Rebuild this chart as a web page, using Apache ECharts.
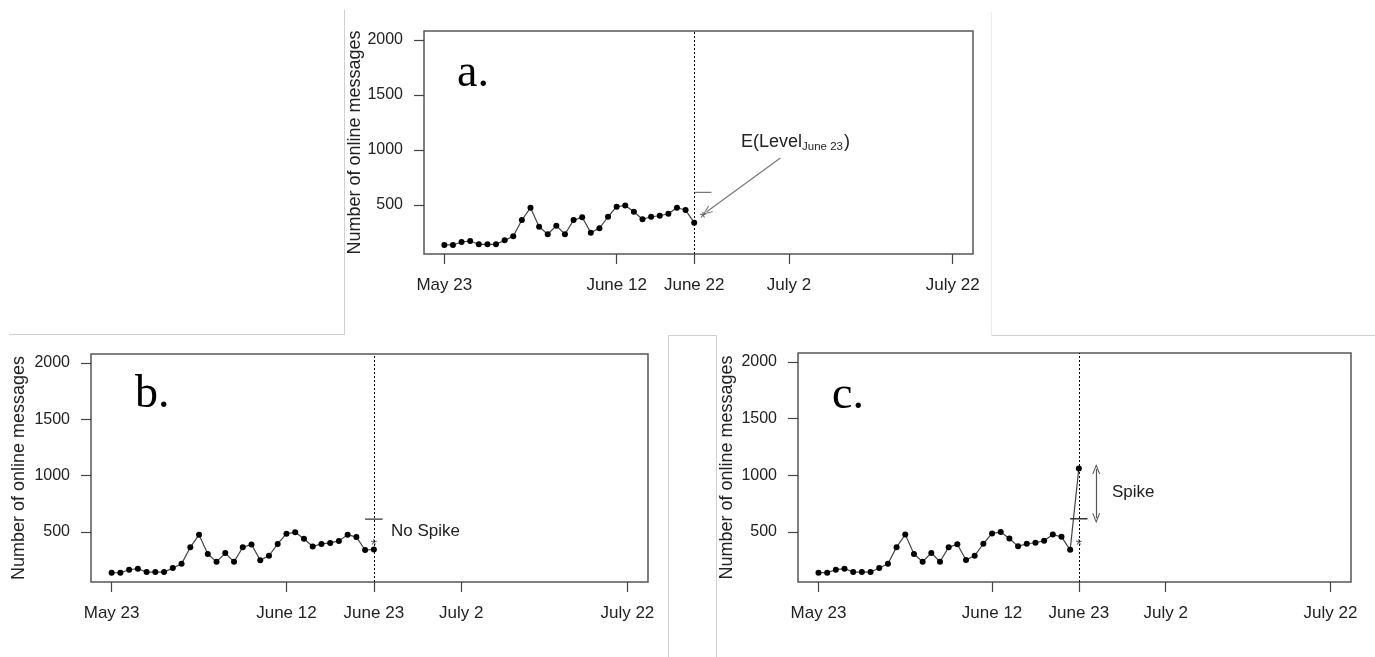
<!DOCTYPE html>
<html>
<head>
<meta charset="utf-8">
<script src="https://cdn.jsdelivr.net/npm/echarts@6/dist/echarts.min.js"></script>
<style>
  html, body { margin: 0; padding: 0; background: #fff; }
  #chart { width: 1375px; height: 657px; }
</style>
</head>
<body>
<div id="chart"></div>
<script>
// daily message counts, May 23 .. June 22 (day index 0..29)
const messages = [138, 138, 165, 174, 144, 144, 144, 180, 217, 364, 476, 304, 235, 313, 235,
                  364, 389, 250, 289, 394, 485, 497, 440, 371, 394, 403, 421, 476, 455, 340];
const june23NoSpike = 345;   // panel b
const june23Spike = 1060;    // panel c
const expectedLevel = 415;   // the "*" at June 23
const upperBound = 615;      // short horizontal threshold bar

const tickDaysA = [0, 20, 29, 40, 59];
const tickLabelsA = ['May 23', 'June 12', 'June 22', 'July 2', 'July 22'];
const tickDaysBC = [0, 20, 30, 40, 59];
const tickLabelsBC = ['May 23', 'June 12', 'June 23', 'July 2', 'July 22'];
const yTicks = [500, 1000, 1500, 2000];

const FONT = 'Liberation Sans';
const chevron = 'path://M0,10 L5,0 L10,10 L8.6,10 L5,2.8 L1.4,10 Z';

const chart = echarts.init(document.getElementById('chart'));

const grids = [
  { left: 424, top: 31, width: 549, height: 223 },
  { left: 91, top: 354, width: 557, height: 228 },
  { left: 798, top: 353, width: 553, height: 229 }
].map(g => Object.assign(g, { show: true, borderColor: '#555', borderWidth: 1.5, containLabel: false }));

function xAxis(gridIndex, days, labels) {
  return {
    type: 'value', gridIndex, min: -2.36, max: 61.36,
    axisLine: { show: false, onZero: false },
    splitLine: { show: false },
    axisTick: { show: true, length: 10, customValues: days, lineStyle: { color: '#444', width: 1.2 } },
    axisLabel: {
      customValues: days, margin: 23, fontSize: 17, fontFamily: FONT, color: '#222',
      formatter: v => labels[days.indexOf(v)]
    }
  };
}

function yAxis(gridIndex, gap) {
  return {
    type: 'value', gridIndex, min: 56, max: 2080,
    name: 'Number of online messages', nameLocation: 'middle', nameGap: gap,
    nameMoveOverlap: false,
    nameTextStyle: { fontSize: 18, fontFamily: FONT, color: '#222' },
    axisLine: { show: false, onZero: false },
    splitLine: { show: false },
    axisTick: { show: true, length: 10, customValues: yTicks, lineStyle: { color: '#444', width: 1.2 } },
    axisLabel: { customValues: yTicks, margin: 21, fontSize: 16, fontFamily: FONT, color: '#222', formatter: v => String(v) }
  };
}

function panelSeries(idx, values, cutDay) {
  return [
    {
      type: 'line', xAxisIndex: idx, yAxisIndex: idx,
      data: values.map((v, i) => [i, v]),
      symbol: 'circle', symbolSize: 6,
      itemStyle: { color: '#000' },
      lineStyle: { color: '#444', width: 1.2 },
      markLine: {
        silent: true, symbol: 'none', label: { show: false },
        lineStyle: { type: [2, 2], color: '#000', width: 1 },
        data: [{ xAxis: cutDay }]
      }
    },
    {
      type: 'line', xAxisIndex: idx, yAxisIndex: idx,
      data: [[29, upperBound], [31, upperBound]],
      symbol: 'none', lineStyle: { color: idx === 0 ? '#777' : '#333', width: 1.3 }
    },
    {
      type: 'scatter', xAxisIndex: idx, yAxisIndex: idx, z: 5,
      data: [[30, expectedLevel]],
      symbolSize: 2, itemStyle: { color: 'rgba(0,0,0,0)' },
      label: { show: true, position: 'inside', formatter: '*', fontSize: 16, fontFamily: FONT, color: '#334', offset: [0, 5] }
    }
  ];
}

const seriesA = panelSeries(0, messages, 29);
seriesA[1].markLine = {
  silent: true, symbol: ['none', chevron], symbolSize: [8, 10], label: { show: false },
  lineStyle: { type: 'solid', color: '#777', width: 1.2 },
  data: [[{ coord: [39.0, 928] }, { coord: [30.45, 439] }]]
};
const seriesB = panelSeries(1, messages.concat([june23NoSpike]), 30);
const seriesC = panelSeries(2, messages.concat([june23Spike]), 30);
seriesC[1].markLine = {
  silent: true, symbol: [chevron, chevron], symbolSize: [8, 10], label: { show: false },
  lineStyle: { type: 'solid', color: '#555', width: 1.2 },
  data: [[{ coord: [32, 620] }, { coord: [32, 1055] }]]
};

const borderLine = (x1, y1, x2, y2, c) => ({
  type: 'line', silent: true,
  shape: { x1, y1, x2, y2 }, style: { stroke: c || '#cfcfcf', lineWidth: 1 }
});
const label = (x, y, text, size, family, color) => ({
  type: 'text', silent: true,
  style: { x, y, text, fontSize: size, fontFamily: family || FONT, fill: color || '#222', verticalAlign: 'middle' }
});

chart.setOption({
  animation: false,
  grid: grids,
  xAxis: [xAxis(0, tickDaysA, tickLabelsA), xAxis(1, tickDaysBC, tickLabelsBC), xAxis(2, tickDaysBC, tickLabelsBC)],
  yAxis: [yAxis(0, 60), yAxis(1, 63), yAxis(2, 62)],
  series: seriesA.concat(seriesB, seriesC),
  graphic: [
    borderLine(9, 334.5, 344.5, 334.5),
    borderLine(344.5, 10, 344.5, 334.5),
    borderLine(991.5, 12, 991.5, 335.5, '#ececec'),
    borderLine(991.5, 335.5, 1375, 335.5),
    borderLine(668.5, 335.5, 716.5, 335.5),
    borderLine(668.5, 335.5, 668.5, 657),
    borderLine(716.5, 335.5, 716.5, 657),
    label(457, 74, 'a.', 46, 'Liberation Serif', '#000'),
    label(135, 395, 'b.', 46, 'Liberation Serif', '#000'),
    label(832, 396, 'c.', 46, 'Liberation Serif', '#000'),
    label(741, 142, 'E(Level', 18),
    label(802, 147, 'June 23', 11.5),
    label(844, 142, ')', 18),
    label(391, 531, 'No Spike', 17),
    label(1112, 492, 'Spike', 17)
  ]
});
</script>
</body>
</html>
